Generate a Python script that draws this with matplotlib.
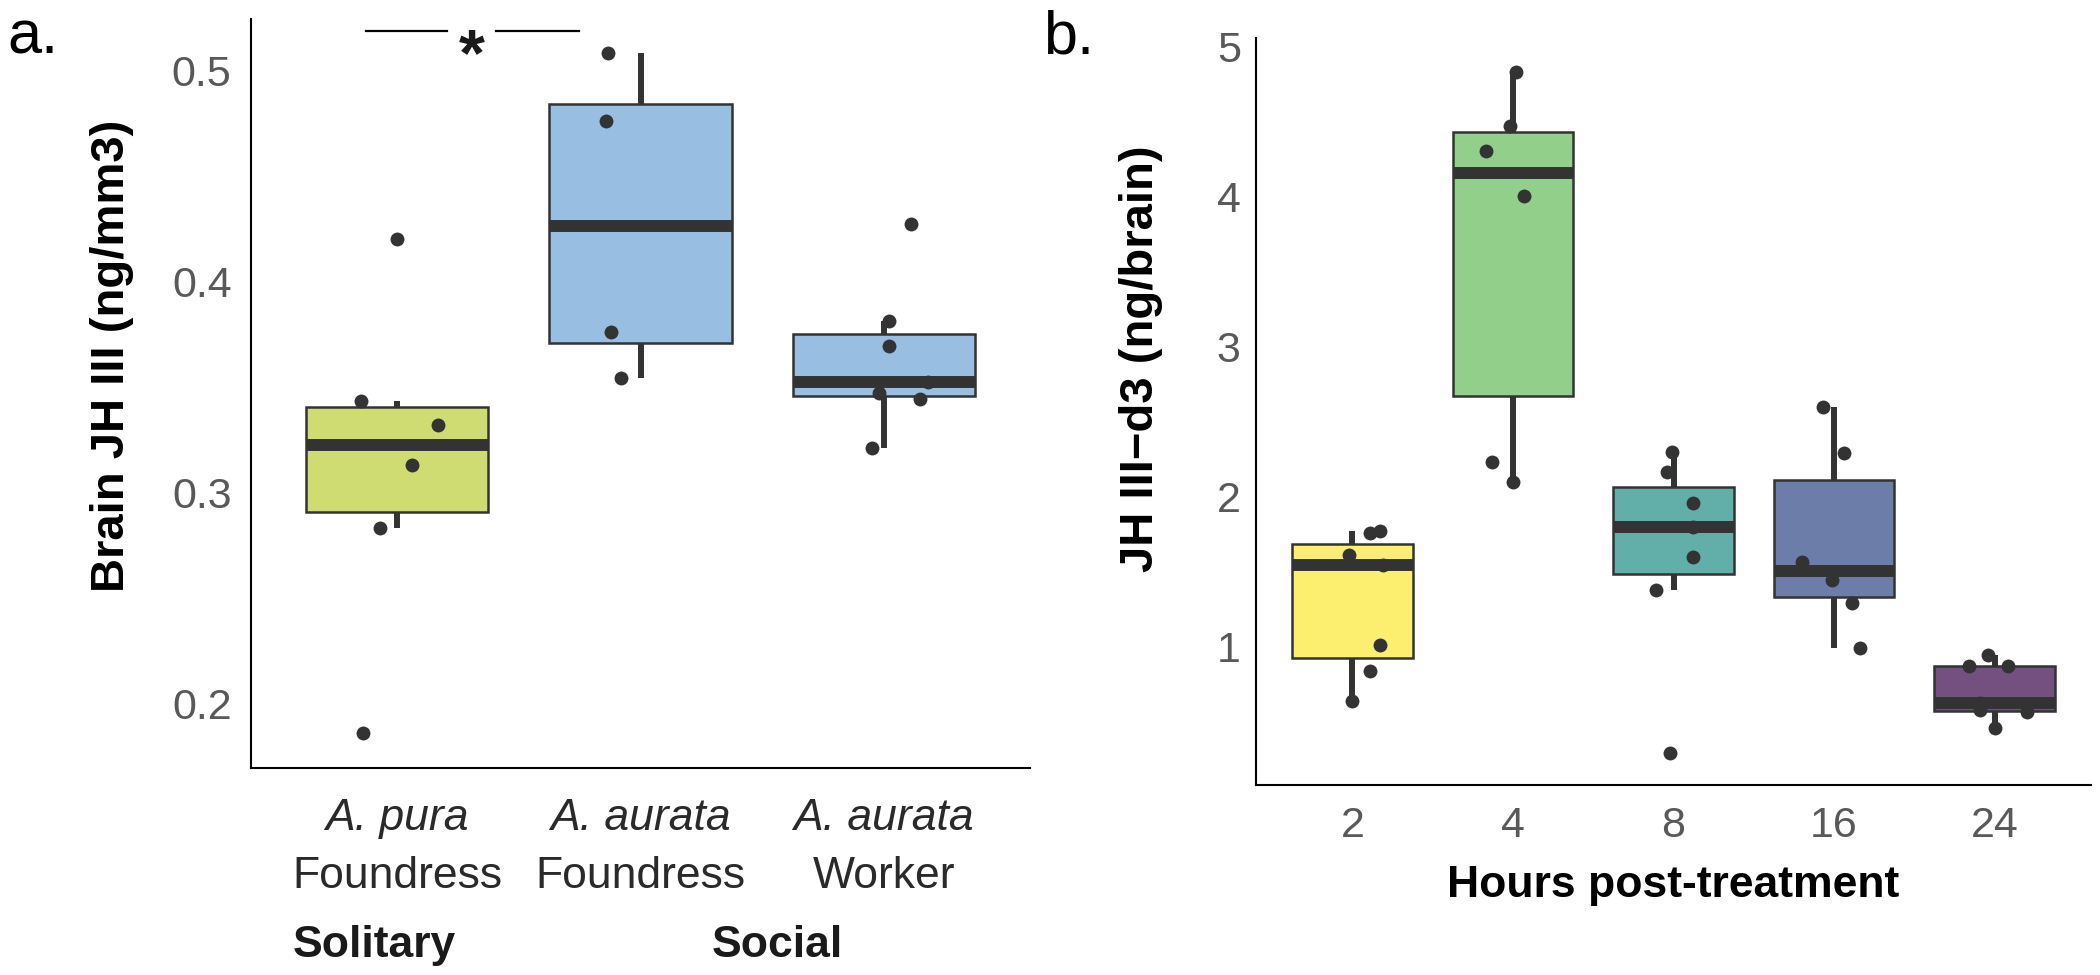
import matplotlib
matplotlib.use('Agg')
import matplotlib.pyplot as plt
from matplotlib import transforms

plt.rcParams['font.family'] = ['Liberation Sans', 'DejaVu Sans']

# panel a: brain JH III by caste
species_a = ['A. pura', 'A. aurata', 'A. aurata']
roles_a = ['Foundress', 'Foundress', 'Worker']
group_labels = ['Solitary', 'Social']
jh_pura_fd = [0.186, 0.283, 0.313, 0.332, 0.343, 0.420]
jh_aurata_fd = [0.354, 0.376, 0.476, 0.508]
jh_aurata_wk = [0.321, 0.344, 0.347, 0.352, 0.369, 0.381, 0.427]
# horizontal jitter of the points
jit_pura_fd = [-0.14, -0.07, 0.06, 0.17, -0.15, 0.0]
jit_aurata_fd = [-0.08, -0.12, -0.14, -0.135]
jit_aurata_wk = [-0.05, 0.15, -0.02, 0.18, 0.02, 0.02, 0.11]
colors_a = ['#CEDC72', '#98BEE2', '#98BEE2']
yticks_a = [0.2, 0.3, 0.4, 0.5]

# panel b: JH III-d3 time course
hours = ['2', '4', '8', '16', '24']
h2 = [0.64, 0.84, 1.013, 1.547, 1.613, 1.76, 1.773]
h4 = [2.1, 2.233, 4.007, 4.307, 4.473, 4.833]
h8 = [0.293, 1.38, 1.6, 1.8, 1.96, 2.167, 2.3]
h16 = [0.993, 1.293, 1.447, 1.567, 2.293, 2.6]
h24 = [0.46, 0.567, 0.58, 0.627, 0.873, 0.873, 0.946]
jit_h2 = [0.0, 0.11, 0.17, 0.19, -0.02, 0.11, 0.17]
jit_h4 = [0.0, -0.13, 0.07, -0.17, -0.02, 0.02]
jit_h8 = [-0.02, -0.11, 0.12, 0.12, 0.12, -0.04, -0.01]
jit_h16 = [0.16, 0.11, -0.01, -0.2, 0.06, -0.07]
jit_h24 = [0.0, 0.2, -0.09, -0.09, -0.16, 0.08, -0.04]
colors_b = ['#FCEE6E', '#92CF8A', '#62AFA9', '#6C7DAA', '#735080']
yticks_b = [1, 2, 3, 4, 5]

EDGE = '#333333'
TICK_GREY = '#595959'


def draw_boxes(ax, data, jitter, colors):
    pos = list(range(1, len(data) + 1))
    bp = ax.boxplot(data, positions=pos, widths=0.75, patch_artist=True,
                    showfliers=False, showcaps=False, whis=1.5,
                    boxprops=dict(edgecolor=EDGE, linewidth=1.8),
                    whiskerprops=dict(color=EDGE, linewidth=4.3, solid_capstyle='butt'),
                    medianprops=dict(color=EDGE, linewidth=8.6, solid_capstyle='butt'))
    for patch, c in zip(bp['boxes'], colors):
        patch.set_facecolor(c)
    for p, vals, jit in zip(pos, data, jitter):
        ax.scatter([p + j for j in jit], vals, s=100, color=EDGE, zorder=5,
                   linewidths=0)


def style_axes(ax):
    for side in ['top', 'right']:
        ax.spines[side].set_visible(False)
    for side in ['left', 'bottom']:
        ax.spines[side].set_linewidth(1.5)
        ax.spines[side].set_color('black')
    ax.tick_params(length=0, labelsize=31, labelcolor=TICK_GREY)


fig = plt.figure(figsize=(21, 9.75), dpi=100)

# ---- panel a
ax1 = fig.add_axes([251 / 2100, 1 - 768 / 975, 779 / 2100, 749 / 975])
draw_boxes(ax1, [jh_pura_fd, jh_aurata_fd, jh_aurata_wk],
           [jit_pura_fd, jit_aurata_fd, jit_aurata_wk], colors_a)
style_axes(ax1)
ax1.set_xlim(0.4, 3.6)
ax1.set_ylim(0.1692, 0.5242)
ax1.set_yticks(yticks_a)
ax1.set_yticklabels([str(v) for v in yticks_a])
ax1.tick_params(axis='y', pad=14)
ax1.set_xticks([1, 2, 3])
ax1.set_xticklabels([])

trans = transforms.blended_transform_factory(ax1.transData, ax1.transAxes)
for i, (sp, role) in enumerate(zip(species_a, roles_a)):
    ax1.annotate(sp, xy=(i + 1, 0), xycoords=trans, xytext=(0, -44.6),
                 textcoords='offset points', ha='center', va='baseline',
                 fontsize=32, style='italic', color='#2a2a2a')
    ax1.annotate(role, xy=(i + 1, 0), xycoords=trans, xytext=(0, -86.4),
                 textcoords='offset points', ha='center', va='baseline',
                 fontsize=32, color='#2a2a2a')
for xg, lab in zip([0.908, 2.56], group_labels):
    ax1.annotate(lab, xy=(xg, 0), xycoords=trans, xytext=(0, -136),
                 textcoords='offset points', ha='center', va='baseline',
                 fontsize=32, fontweight='bold', color='#1a1a1a')

# significance bracket
ax1.plot([0.871, 1.207], [0.5185, 0.5185], color='black', lw=1.6, clip_on=False)
ax1.plot([1.408, 1.748], [0.5185, 0.5185], color='black', lw=1.6, clip_on=False)
ax1.text(1.306, 0.4975, '*', ha='center', va='baseline', fontsize=48,
         fontweight='bold', color='#1a1a1a')

fig.text(112 / 2100, 1 - 356 / 975, 'Brain JH III (ng/mm3)', rotation=90,
         ha='center', va='center', fontsize=34, fontweight='bold')
fig.text(7 / 2100, 1 - 53 / 975, 'a.', ha='left', va='baseline', fontsize=44)

# ---- panel b
ax2 = fig.add_axes([1256 / 2100, 1 - 785 / 975, 835 / 2100, 747 / 975])
draw_boxes(ax2, [h2, h4, h8, h16, h24],
           [jit_h2, jit_h4, jit_h8, jit_h16, jit_h24], colors_b)
style_axes(ax2)
ax2.set_xlim(0.4, 5.6)
ax2.set_ylim(0.08, 5.06)
ax2.set_yticks(yticks_b)
ax2.set_yticklabels([str(v) for v in yticks_b])
ax2.tick_params(axis='y', pad=11)
ax2.set_xticks(range(1, 6))
ax2.set_xticklabels(hours)
ax2.tick_params(axis='x', pad=15)
ax2.set_xlabel('Hours post-treatment', fontsize=32, fontweight='bold',
               labelpad=14)

fig.text(1141 / 2100, 1 - 359 / 975, 'JH III\u2212d3 (ng/brain)', rotation=90,
         ha='center', va='center', fontsize=34, fontweight='bold')
fig.text(1043 / 2100, 1 - 53 / 975, 'b.', ha='left', va='baseline', fontsize=44)

fig.savefig('out.png', dpi=100)
